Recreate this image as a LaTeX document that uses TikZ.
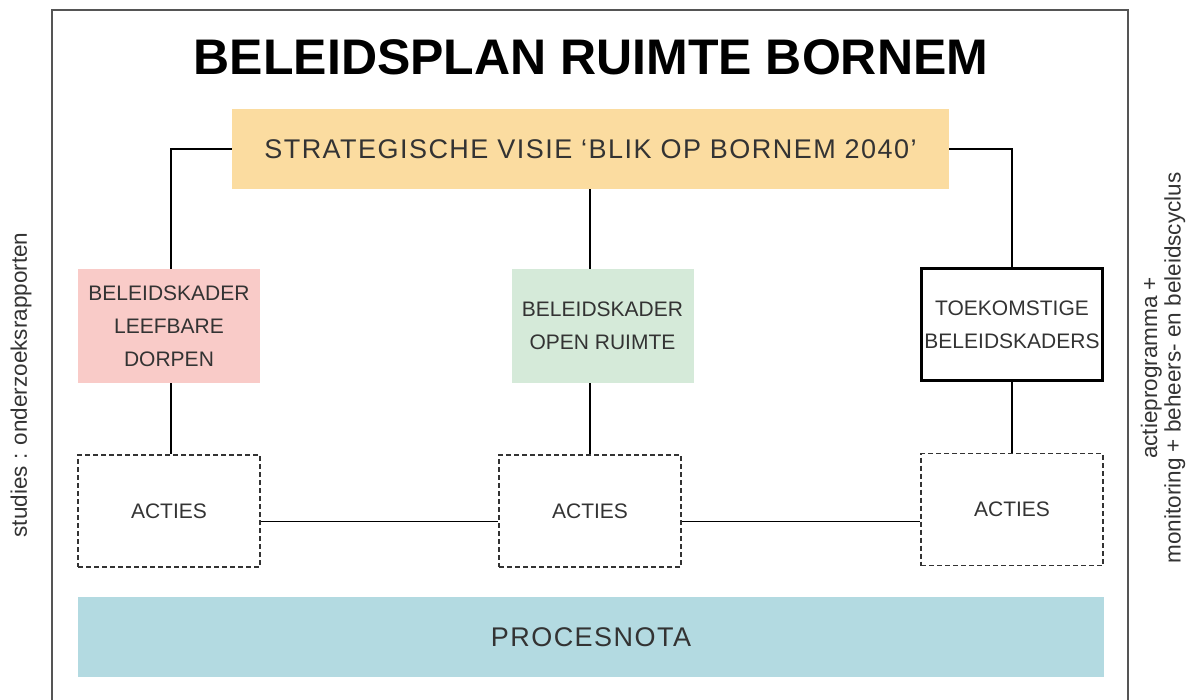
\documentclass[tikz,border=0pt]{standalone}
\usepackage{fontspec}
\setmainfont{Liberation Sans}
\usetikzlibrary{calc}
\definecolor{strat}{HTML}{FBDCA0}
\definecolor{pinkbox}{HTML}{F9CBC8}
\definecolor{greenbox}{HTML}{D5EAD9}
\definecolor{bluebox}{HTML}{B3DAE1}
\definecolor{txt}{HTML}{333333}
\definecolor{frame}{HTML}{555555}
\tikzset{
  box/.style={rectangle, inner sep=0pt, align=center, text=txt,
    font=\fontsize{21}{33}\selectfont},
  bigtext/.style={font=\fontsize{27}{30}\selectfont\addfontfeature{LetterSpace=5.4}},
  actbox/.style={box, draw=txt, line width=1.4pt, dash pattern=on 5pt off 3pt,
    minimum width=182pt, minimum height=112pt},
  conn/.style={draw=black, line width=1.4pt},
  side/.style={text=txt, font=\fontsize{22.5}{23.5}\selectfont, align=center, rotate=90}
}
\begin{document}
\begin{tikzpicture}[x=1pt, y=-1pt]
\useasboundingbox (0,0) rectangle (1186,700);
\begin{scope}
\clip (0,0) rectangle (1186,700);
\draw[frame, line width=2pt] (52,720) -- (52,10) -- (1128,10) -- (1128,720);
\end{scope}
\node (title) at (591,57) {\fontsize{50}{52}\selectfont\bfseries BELEIDSPLAN RUIMTE BORNEM};
\node[box, fill=strat, minimum width=717pt, minimum height=80pt, bigtext] (strat) at (590.5,149) {STRATEGISCHE VISIE ‘BLIK OP BORNEM 2040’};
\node[box, fill=pinkbox, minimum width=182pt, minimum height=114pt] (pink) at (169,326) {BELEIDSKADER\\LEEFBARE\\DORPEN};
\node[box, fill=greenbox, minimum width=182pt, minimum height=114pt] (green) at (602.5,326) {BELEIDSKADER\\OPEN RUIMTE};
\node[box, draw=black, line width=3pt, minimum width=181pt, minimum height=112pt] (toek) at (1012,325) {TOEKOMSTIGE\\BELEIDSKADERS};
\node[actbox] (actL) at (169,511) {ACTIES};
\node[actbox] (actM) at (590,511) {ACTIES};
\node[actbox] (actR) at (1012,509.5) {ACTIES};
\node[box, fill=bluebox, minimum width=1026pt, minimum height=80pt, bigtext] (proc) at (591,637) {PROCESNOTA};
\node[side] (studies) at (21,385) {studies : onderzoeksrapporten};
\node[side] (actie) at (1163,368) {actieprogramma +\\monitoring + beheers- en beleidscyclus};
\draw[conn] (strat.west) -| ([xshift=2pt]pink.north);
\draw[conn] (strat.east) -| (toek.north);
\draw[conn] (actM.north |- strat.south) -- (actM.north |- green.north);
\draw[conn] ([xshift=2pt]pink.south) -- ([xshift=2pt]actL.north);
\draw[conn] (actM.north |- green.south) -- (actM.north);
\draw[conn] (toek.south) -- (toek.south |- actR.north);
\draw[conn] ([yshift=-10.5pt]actL.east) -- ([yshift=-10.5pt]actL.east -| actM.west);
\draw[conn] ([yshift=-10.5pt]actM.east) -- ([yshift=-10.5pt]actM.east -| actR.west);
\end{tikzpicture}
\end{document}
